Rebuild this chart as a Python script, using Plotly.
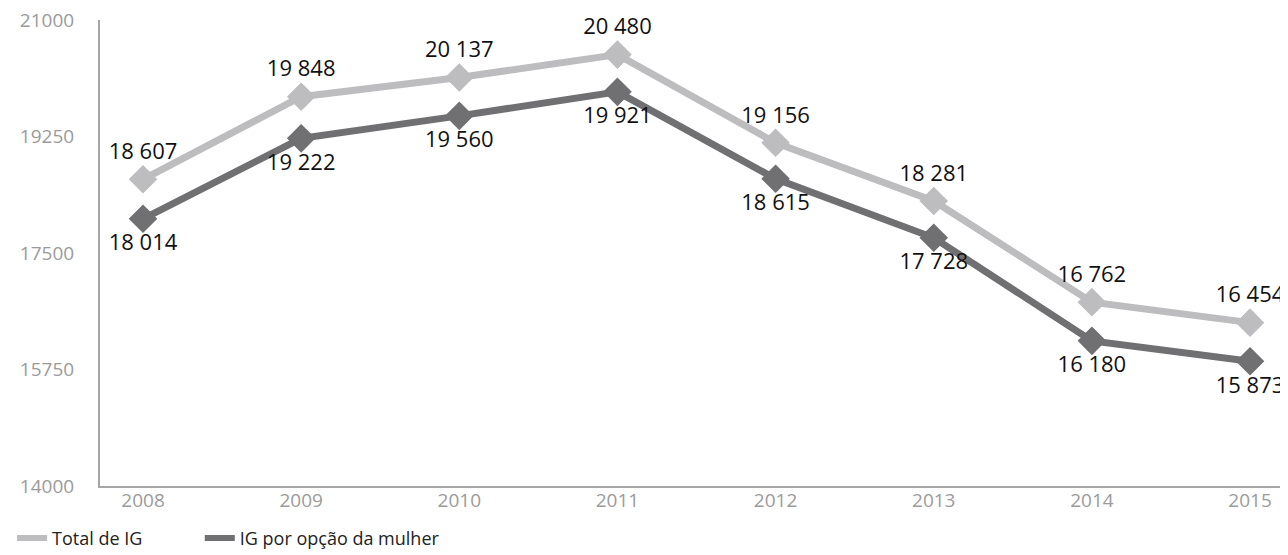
import plotly.graph_objects as go

YEARS = [2008, 2009, 2010, 2011, 2012, 2013, 2014, 2015]
TOTAL_IG = [18607, 19848, 20137, 20480, 19156, 18281, 16762, 16454]
IG_OPCAO = [18014, 19222, 19560, 19921, 18615, 17728, 16180, 15873]
Y_TICKS = [14000, 15750, 17500, 19250, 21000]

C_LIGHT = "#bdbdbf"
C_DARK = "#707073"
C_AXIS = "#a6a6a6"
C_TICK = "#9b9b9b"
FONT = "Open Sans"


def _fmt(v):
    return f"{v:,}".replace(",", " ")


def _series(fig, name, values, color, pos, legend):
    fig.add_trace(go.Scatter(
        x=YEARS, y=values, name=name, showlegend=False,
        mode="lines+markers+text",
        line=dict(color=color, width=7),
        marker=dict(symbol="diamond", size=22, color=color),
        text=[_fmt(v) for v in values], textposition=pos,
        textfont=dict(size=22, color="#111", family=FONT),
        cliponaxis=False,
    ))
    # legend-only entry so the key shows a plain line, as in the original
    fig.add_trace(go.Scatter(
        x=[None], y=[None], name=name, mode="lines", legend=legend,
        line=dict(color=color, width=6),
    ))


fig = go.Figure()
_series(fig, "Total de IG", TOTAL_IG, C_LIGHT, "top center", "legend")
_series(fig, "IG por opção da mulher", IG_OPCAO, C_DARK, "bottom center", "legend2")

leg = dict(
    orientation="h", y=-0.112, xanchor="left", yanchor="middle",
    font=dict(size=18, color="#222", family=FONT),
)
fig.update_layout(
    width=1280, height=547,
    margin=dict(l=92, r=0, t=12, b=69, autoexpand=False),
    plot_bgcolor="white", paper_bgcolor="white",
    font=dict(family=FONT, color=C_TICK),
    showlegend=True,
    legend=dict(leg, x=-0.074),
    legend2=dict(leg, x=0.084),
)
fig.update_xaxes(
    range=[2007.728, 2015.24],
    tickvals=YEARS, ticktext=[str(y) for y in YEARS],
    showgrid=False, zeroline=False,
    showline=True, linecolor=C_AXIS, linewidth=2,
    tickfont=dict(size=19, color=C_TICK), ticklabelstandoff=-4,
)
fig.update_yaxes(
    range=[14000, 21000],
    tickvals=Y_TICKS, ticktext=[str(v) for v in Y_TICKS],
    showgrid=False, zeroline=False,
    showline=True, linecolor=C_AXIS, linewidth=2,
    tickfont=dict(size=19, color=C_TICK), ticklabelstandoff=20,
    ticklabeloverflow="allow",
)

fig.write_html("out.html")
